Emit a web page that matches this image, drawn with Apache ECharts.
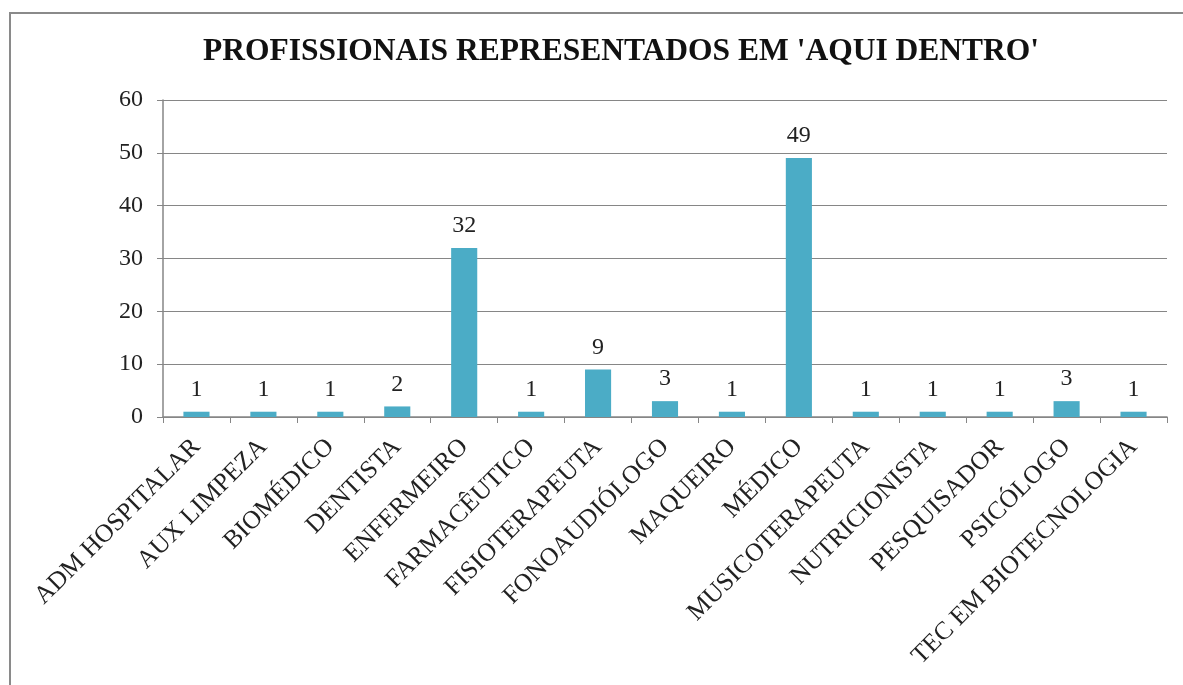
<!DOCTYPE html>
<html><head><meta charset="utf-8">
<script src="https://cdn.jsdelivr.net/npm/echarts@6/dist/echarts.min.js"></script>
<style>html,body{margin:0;padding:0;background:#fff}#frame{position:absolute;left:9px;top:12px;width:1190px;height:700px;border:2px solid #8a8a8a;box-sizing:border-box}#c{position:absolute;left:0;top:0;width:1183px;height:685px}</style>
</head><body><div id="frame"></div><div id="c"></div>
<script>
const categories = ['ADM HOSPITALAR','AUX LIMPEZA','BIOMÉDICO','DENTISTA','ENFERMEIRO','FARMACÊUTICO','FISIOTERAPEUTA','FONOAUDIÓLOGO','MAQUEIRO','MÉDICO','MUSICOTERAPEUTA','NUTRICIONISTA','PESQUISADOR','PSICÓLOGO','TEC EM BIOTECNOLOGIA'];
const values = [1,1,1,2,32,1,9,3,1,49,1,1,1,3,1];
const titleText = "PROFISSIONAIS REPRESENTADOS EM 'AQUI DENTRO'";
const serif = '"Liberation Serif","Times New Roman",serif';
const chart = echarts.init(document.getElementById('c'));
chart.setOption({
  animation:false,
  title:{text:titleText,left:616,textAlign:'center',top:31,textStyle:{fontFamily:serif,fontWeight:'bold',fontSize:31.5,color:'#111'}},
  grid:{left:163,right:16,top:100,bottom:268,containLabel:false},
  xAxis:{type:'category',data:categories,
    axisLine:{lineStyle:{color:'#868686',width:1.5}},
    axisTick:{show:true,length:6,lineStyle:{color:'#868686'}},
    axisLabel:{rotate:45,interval:0,fontFamily:serif,fontSize:25.5,color:'#222',margin:26}},
  yAxis:{type:'value',min:0,max:60,interval:10,
    axisLine:{show:true,lineStyle:{color:'#868686',width:1.5}},
    axisTick:{show:true,length:6,lineStyle:{color:'#868686'}},
    splitLine:{lineStyle:{color:'#868686',width:1.2}},
    axisLabel:{fontFamily:serif,fontSize:24,color:'#222',margin:20}},
  series:[{type:'bar',data:values,barWidth:'39%',itemStyle:{color:'#4BACC6'},
    label:{show:true,position:'top',distance:10,fontFamily:serif,fontSize:24,color:'#222'}}]
});
</script></body></html>
